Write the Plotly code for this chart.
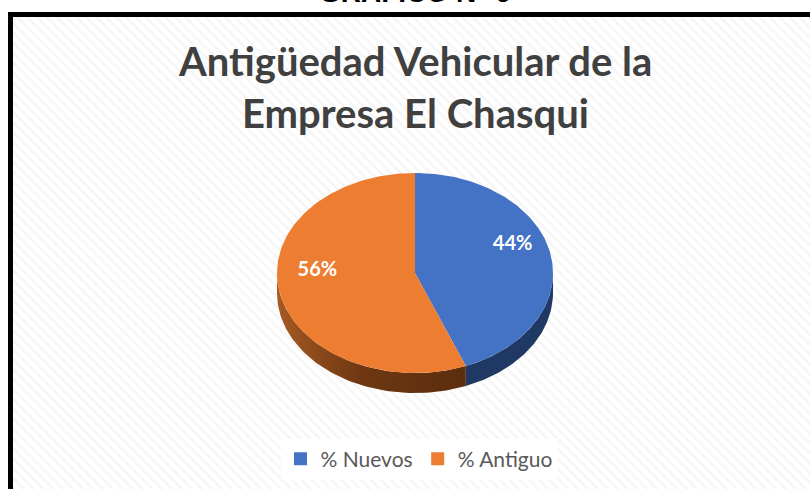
import numpy as np
import plotly.graph_objects as go

# ---- data ----
labels = ["% Nuevos", "% Antiguo"]
values = [44, 56]
colors_top = ["#4472C4", "#ED7D31"]
title_lines = ["Antigüedad Vehicular de la", "Empresa El Chasqui"]
header = "GRÁFICO N° 6"

W, H = 810, 489
# pie geometry (pixel space)
cx, cy, rx, ry, depth = 415, 273, 138, 100, 20

fig = go.Figure()

# background hatched panel
fig.add_trace(go.Scatter(
    x=[10, 812, 812, 10, 10], y=[14, 14, 492, 492, 14],
    fill="toself", mode="lines", line=dict(width=0),
    fillcolor="white",
    fillpattern=dict(shape="\\", fgcolor="#ebebeb", bgcolor="white", size=7, solidity=0.35),
    hoverinfo="skip", showlegend=False))

total = float(sum(values))
angles = np.concatenate([[0], np.cumsum(values) / total * 360.0])


def pt(theta_deg, dy=0.0):
    t = np.radians(theta_deg)
    return cx + rx * np.sin(t), cy - ry * np.cos(t) + dy


# side walls (front half: 90..270 clock degrees)
side_fill = [
    dict(fillcolor="#1f3864"),
    dict(fillgradient=dict(type="horizontal",
                           colorscale=[[0, "#a65a24"], [0.45, "#6e3712"], [1, "#5c2d0e"]])),
]
for i in range(len(values)):
    a0, a1 = max(angles[i], 90), min(angles[i + 1], 270)
    if a1 <= a0:
        continue
    th = np.linspace(a0, a1, 80)
    xs_top, ys_top = pt(th)
    xs_bot, ys_bot = pt(th[::-1], depth)
    xs = np.concatenate([xs_top, xs_bot, xs_top[:1]])
    ys = np.concatenate([ys_top, ys_bot, ys_top[:1]])
    fig.add_trace(go.Scatter(x=xs, y=ys, fill="toself", mode="lines",
                             line=dict(width=0), hoverinfo="skip",
                             showlegend=False, **side_fill[i]))

# top faces
for i in range(len(values)):
    th = np.linspace(angles[i], angles[i + 1], 160)
    xa, ya = pt(th)
    xs = np.concatenate([[cx], xa, [cx]])
    ys = np.concatenate([[cy], ya, [cy]])
    fig.add_trace(go.Scatter(x=xs, y=ys, fill="toself", mode="lines",
                             line=dict(width=0), fillcolor=colors_top[i],
                             hoverinfo="skip", showlegend=False))

# data labels
mids = (angles[:-1] + angles[1:]) / 2
lx, ly = pt(mids * 1.0)
lx = cx + (lx - cx) * 0.72
ly = cy + (ly - cy) * 0.7 - 15
fig.add_trace(go.Scatter(
    x=lx, y=ly, mode="text",
    text=[f"{v:.0f}%" for v in values],
    textfont=dict(family="Lato", size=20, color="white", weight="bold"),
    hoverinfo="skip", showlegend=False))

# legend entries
for lab, col in zip(labels, colors_top):
    fig.add_trace(go.Scatter(x=[None], y=[None], mode="markers", name=lab,
                             marker=dict(symbol="square", size=13, color=col)))

# frame
fig.add_shape(type="rect", x0=10.5, y0=14.5, x1=830, y1=520,
              line=dict(color="black", width=5), layer="above")

# header (partially cut off)
fig.add_annotation(x=415, y=10, text=f"<b>{header}</b>", showarrow=False,
                   yanchor="bottom", font=dict(family="Liberation Sans", size=28, color="black"))

# title
fig.add_annotation(x=415, y=61, text=f"<b>{title_lines[0]}</b>", showarrow=False,
                   font=dict(family="Lato", size=40, color="#404040"))
fig.add_annotation(x=415, y=113, text=f"<b>{title_lines[1]}</b>", showarrow=False,
                   font=dict(family="Lato", size=40, color="#404040"))

fig.update_layout(
    width=W, height=H,
    margin=dict(l=0, r=0, t=0, b=0),
    paper_bgcolor="white", plot_bgcolor="white",
    xaxis=dict(range=[0, W], visible=False, fixedrange=True),
    yaxis=dict(range=[H, 0], visible=False, fixedrange=True),
    legend=dict(orientation="h", x=419 / W, xanchor="center",
                y=1 - 459 / H, yanchor="middle",
                bgcolor="white", font=dict(family="Lato", size=21, color="#595959"),
                itemwidth=30),
    showlegend=True,
)

fig.write_html("out.html", config={"displayModeBar": False},
               post_script="document.body.style.margin='0';")
